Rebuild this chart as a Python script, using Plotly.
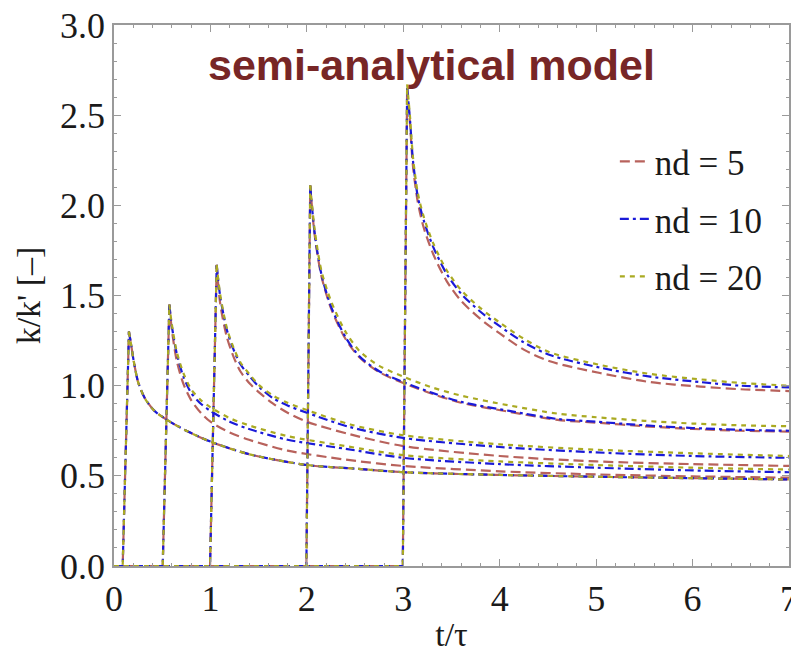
import plotly.graph_objects as go

# ---------------- data ----------------
nd_labels = ["nd = 5", "nd = 10", "nd = 20"]

# scenario 1 (injection at t ~ 0.1): all nd coincide
t_s1 = [0, 0.09, 0.155, 0.18, 0.2, 0.25, 0.32, 0.42, 0.55, 0.75, 1.0, 1.4, 2.0, 2.5, 3.0, 4.0, 5.0, 6.0, 7.0]
y_s1 = [0, 0, 1.30, 1.22, 1.15, 1.02, 0.93, 0.86, 0.81, 0.75, 0.69, 0.62, 0.56, 0.54, 0.52, 0.505, 0.495, 0.487, 0.48]

# scenario 2 (injection at t = 0.5)
t_s2 = [0, 0.505, 0.574, 0.6, 0.65, 0.72, 0.8, 0.9, 1.0, 1.2, 1.4, 1.8, 2.4, 3.0, 4.0, 5.0, 6.0, 7.0]
y_s2_nd5 = [0, 0, 1.45, 1.31, 1.14, 1.01, 0.92, 0.85, 0.80, 0.74, 0.70, 0.64, 0.59, 0.555, 0.525, 0.508, 0.497, 0.49]
y_s2_nd10 = [0, 0, 1.45, 1.33, 1.18, 1.05, 0.96, 0.90, 0.86, 0.80, 0.76, 0.70, 0.65, 0.60, 0.565, 0.545, 0.53, 0.52]
y_s2_nd20 = [0, 0, 1.45, 1.34, 1.19, 1.07, 0.98, 0.92, 0.88, 0.82, 0.78, 0.72, 0.665, 0.615, 0.58, 0.56, 0.545, 0.535]

# scenario 3 (injection at t = 1)
t_s3 = [0, 0.996, 1.065, 1.1, 1.17, 1.24, 1.31, 1.41, 1.51, 1.65, 1.8, 2.0, 2.45, 3.0, 4.0, 5.0, 6.0, 7.0]
y_s3_nd5 = [0, 0, 1.67, 1.46, 1.27, 1.16, 1.08, 1.01, 0.96, 0.90, 0.85, 0.80, 0.73, 0.665, 0.61, 0.58, 0.565, 0.555]
y_s3_nd10 = [0, 0, 1.67, 1.50, 1.31, 1.20, 1.12, 1.05, 0.99, 0.93, 0.89, 0.85, 0.77, 0.71, 0.66, 0.63, 0.61, 0.60]
y_s3_nd20 = [0, 0, 1.67, 1.51, 1.32, 1.21, 1.13, 1.06, 1.00, 0.945, 0.905, 0.865, 0.785, 0.725, 0.675, 0.645, 0.625, 0.61]

# scenario 4 (injection at t = 2)
t_s4 = [0, 1.995, 2.035, 2.08, 2.15, 2.25, 2.4, 2.55, 2.75, 3.0, 3.3, 3.6, 4.1, 4.6, 5.0, 5.5, 6.0, 6.5, 7.0]
y_s4_nd5 = [0, 0, 2.11, 1.84, 1.61, 1.43, 1.26, 1.155, 1.075, 1.015, 0.955, 0.905, 0.855, 0.81, 0.795, 0.775, 0.76, 0.75, 0.745]
y_s4_nd10 = [0, 0, 2.11, 1.85, 1.62, 1.44, 1.27, 1.16, 1.08, 1.02, 0.96, 0.91, 0.86, 0.815, 0.80, 0.78, 0.765, 0.755, 0.75]
y_s4_nd20 = [0, 0, 2.11, 1.87, 1.64, 1.47, 1.30, 1.19, 1.11, 1.05, 0.99, 0.945, 0.89, 0.845, 0.825, 0.805, 0.79, 0.78, 0.775]

# scenario 5 (injection at t = 3)
t_s5 = [0, 2.995, 3.04, 3.07, 3.10, 3.15, 3.21, 3.31, 3.45, 3.6, 3.8, 4.0, 4.25, 4.52, 5.04, 5.56, 6.08, 6.5, 7.0]
y_s5_nd5 = [0, 0, 2.65, 2.45, 2.22, 2.02, 1.88, 1.73, 1.58, 1.47, 1.37, 1.29, 1.20, 1.135, 1.07, 1.02, 0.995, 0.98, 0.97]
y_s5_nd10 = [0, 0, 2.65, 2.47, 2.25, 2.05, 1.92, 1.77, 1.62, 1.51, 1.41, 1.33, 1.24, 1.17, 1.10, 1.05, 1.02, 1.00, 0.99]
y_s5_nd20 = [0, 0, 2.67, 2.49, 2.27, 2.07, 1.94, 1.79, 1.64, 1.53, 1.43, 1.35, 1.26, 1.185, 1.115, 1.065, 1.035, 1.015, 1.00]

x_ticks = [0, 1, 2, 3, 4, 5, 6, 7]
y_ticks = [0.0, 0.5, 1.0, 1.5, 2.0, 2.5, 3.0]
y_tick_text = ["0.0", "0.5", "1.0", "1.5", "2.0", "2.5", "3.0"]

# ---------------- styling ----------------
colors = ["#b8625c", "#1a1ad8", "#aaaa22"]
dashes = ["10px,5px", "9px,4px,3px,4px", "5px,5px"]

series = [
    [(t_s1, y_s1), (t_s2, y_s2_nd5), (t_s3, y_s3_nd5), (t_s4, y_s4_nd5), (t_s5, y_s5_nd5)],
    [(t_s1, y_s1), (t_s2, y_s2_nd10), (t_s3, y_s3_nd10), (t_s4, y_s4_nd10), (t_s5, y_s5_nd10)],
    [(t_s1, y_s1), (t_s2, y_s2_nd20), (t_s3, y_s3_nd20), (t_s4, y_s4_nd20), (t_s5, y_s5_nd20)],
]

fig = go.Figure()
for k in range(3):
    for j, (tt, yy) in enumerate(series[k]):
        # rising part (straight) and decaying part (smooth)
        fig.add_trace(go.Scatter(
            x=tt[:3], y=yy[:3], mode="lines",
            line=dict(color=colors[k], width=2.2, dash=dashes[k]),
            name=nd_labels[k], legendgroup=nd_labels[k],
            showlegend=(j == 0), hoverinfo="skip",
        ))
        fig.add_trace(go.Scatter(
            x=tt[2:], y=yy[2:], mode="lines",
            line=dict(color=colors[k], width=2.2, dash=dashes[k], shape="spline", smoothing=0.8),
            name=nd_labels[k], legendgroup=nd_labels[k],
            showlegend=False, hoverinfo="skip",
        ))

serif = "Liberation Serif"
axis_common = dict(
    showline=True, linecolor="#9a9a9a", linewidth=1.5, mirror="allticks",
    ticks="inside", ticklen=7, tickcolor="#9a9a9a", tickwidth=1,
    showgrid=False, zeroline=False, automargin=False,
    ticklabeloverflow="allow",
    tickfont=dict(family=serif, size=36, color="#1a1a1a"),
)

fig.update_xaxes(
    range=[0, 7], tickvals=x_ticks,
    minor=dict(ticks="inside", ticklen=3.5, dtick=0.2, tickcolor="#9a9a9a", showgrid=False),
    title=dict(text="t/τ", font=dict(family=serif, size=34, color="#1a1a1a"), standoff=6),
    **axis_common,
)
fig.update_yaxes(
    range=[0, 3], tickvals=y_ticks, ticktext=y_tick_text,
    minor=dict(ticks="inside", ticklen=3.5, dtick=0.1, tickcolor="#9a9a9a", showgrid=False),
    title=dict(text="k/k' [–]", font=dict(family=serif, size=34, color="#1a1a1a"), standoff=9),
    **axis_common,
)

fig.add_annotation(
    text="<b>semi-analytical model</b>", xref="paper", yref="paper",
    x=0.47, y=0.926, showarrow=False, xanchor="center", yanchor="middle",
    font=dict(family="Liberation Sans, Arial, sans-serif", size=43, color="#772626"),
)

# the page body adds an 8px margin, so the figure is sized to fill the window
fig.update_layout(
    width=791, height=645, autosize=False,
    margin=dict(l=106, r=10, t=17, b=87),
    plot_bgcolor="white", paper_bgcolor="white",
    showlegend=True,
    legend=dict(
        x=0.742, y=0.802, xanchor="left", yanchor="top",
        bgcolor="rgba(0,0,0,0)", borderwidth=0,
        font=dict(family=serif, size=35, color="#1a1a1a"),
        tracegroupgap=9,
    ),
)

fig.write_html("out.html")
